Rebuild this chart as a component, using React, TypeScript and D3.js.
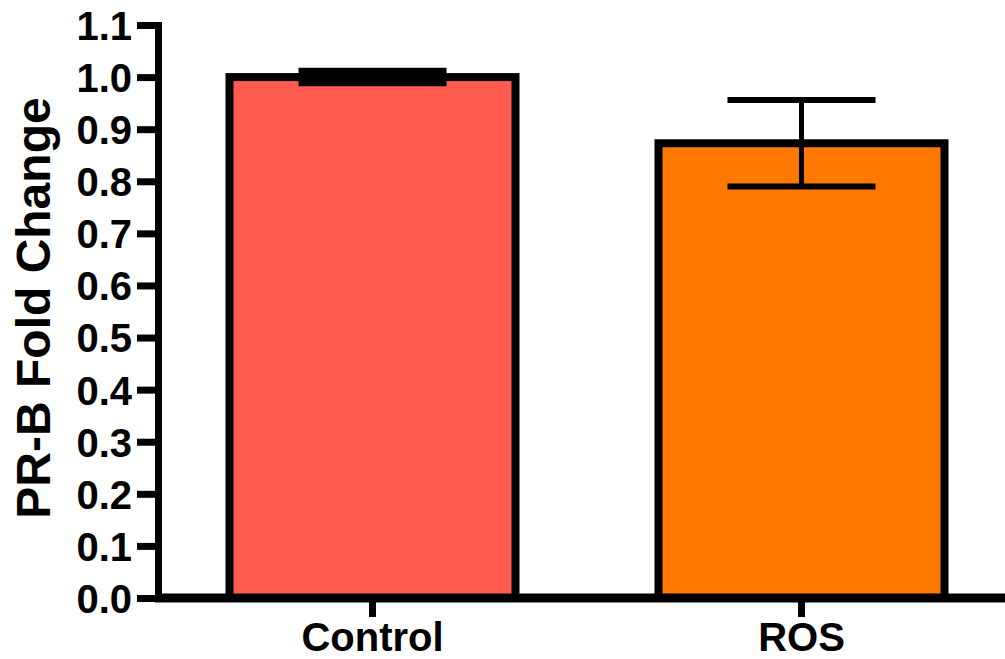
import React, { useEffect, useRef } from 'react'
import * as d3 from 'd3'

const categories = ['Control', 'ROS']
const means = [1.0, 0.873]
const sems = [0.012, 0.083]
const barColors = ['#FF5B4F', '#FF7800']
const yTicks = [0, 0.1, 0.2, 0.3, 0.4, 0.5, 0.6, 0.7, 0.8, 0.9, 1.0, 1.1]

const width = 1005
const height = 659
const font = '"Liberation Sans", Arial, Helvetica, sans-serif'

const App = () => {
  const ref = useRef<SVGSVGElement>(null)

  useEffect(() => {
    const svg = d3.select(ref.current)
    svg.selectAll('*').remove()

    const y = d3.scaleLinear().domain([0, 1.1]).range([598, 25])
    const x = d3.scaleBand()
      .domain(categories)
      .range([158, 1016])
      .paddingInner(0.33)
      .paddingOuter(0.165)

    const data = categories.map((c, i) => ({ c, mean: means[i], sem: sems[i], color: barColors[i] }))
    const barW = 286

    // bars
    svg.append('g')
      .selectAll('rect')
      .data(data)
      .join('rect')
      .attr('x', d => x(d.c)! + x.bandwidth() / 2 - barW / 2)
      .attr('width', barW)
      .attr('y', d => y(d.mean))
      .attr('height', d => y(0) - y(d.mean))
      .attr('fill', d => d.color)
      .attr('stroke', '#000')
      .attr('stroke-width', 8)

    // error bars
    const eb = svg.append('g').selectAll('g').data(data).join('g')
      .attr('transform', d => `translate(${x(d.c)! + x.bandwidth() / 2},0)`)
    eb.append('line')
      .attr('y1', d => y(d.mean + d.sem))
      .attr('y2', d => y(d.mean - d.sem))
      .attr('stroke', '#000')
      .attr('stroke-width', 5)
    eb.selectAll('line.cap')
      .data(d => [d.mean + d.sem, d.mean - d.sem])
      .join('line')
      .attr('class', 'cap')
      .attr('x1', -74)
      .attr('x2', 74)
      .attr('y1', v => y(v))
      .attr('y2', v => y(v))
      .attr('stroke', '#000')
      .attr('stroke-width', 6)

    // y axis
    const yAxis = svg.append('g')
      .attr('transform', 'translate(158,0)')
      .call(d3.axisLeft(y).tickValues(yTicks).tickFormat(d3.format('.1f')).tickSize(21).tickSizeOuter(0).tickPadding(5))
    yAxis.select('.domain').attr('stroke', '#000').attr('stroke-width', 7).attr('stroke-linecap', 'square')
    yAxis.selectAll('.tick line').attr('stroke', '#000').attr('stroke-width', 7)
    yAxis.selectAll('.tick text')
      .attr('fill', '#000')
      .attr('font-family', font)
      .attr('font-weight', 'bold')
      .attr('font-size', 40)
      .attr('dy', '0.36em')

    // x axis
    const xAxis = svg.append('g')
    xAxis.append('line')
      .attr('x1', 155).attr('x2', width)
      .attr('y1', y(0)).attr('y2', y(0))
      .attr('stroke', '#000').attr('stroke-width', 9)
    const xt = xAxis.selectAll('g').data(categories).join('g')
      .attr('transform', d => `translate(${x(d)! + x.bandwidth() / 2},0)`)
    xt.append('line')
      .attr('y1', y(0)).attr('y2', 617)
      .attr('stroke', '#000').attr('stroke-width', 7)
    xt.append('text')
      .attr('y', 651)
      .attr('text-anchor', 'middle')
      .attr('font-family', font)
      .attr('font-weight', 'bold')
      .attr('font-size', 40)
      .text(d => d)

    // y label
    svg.append('text')
      .attr('transform', 'translate(50,308) rotate(-90)')
      .attr('text-anchor', 'middle')
      .attr('font-family', font)
      .attr('font-weight', 'bold')
      .attr('font-size', 48)
      .text('PR-B Fold Change')
  }, [])

  return (
    <svg ref={ref} width={width} height={height}
      style={{ position: 'absolute', left: 0, top: 0, background: '#fff' }} />
  )
}

export default App
